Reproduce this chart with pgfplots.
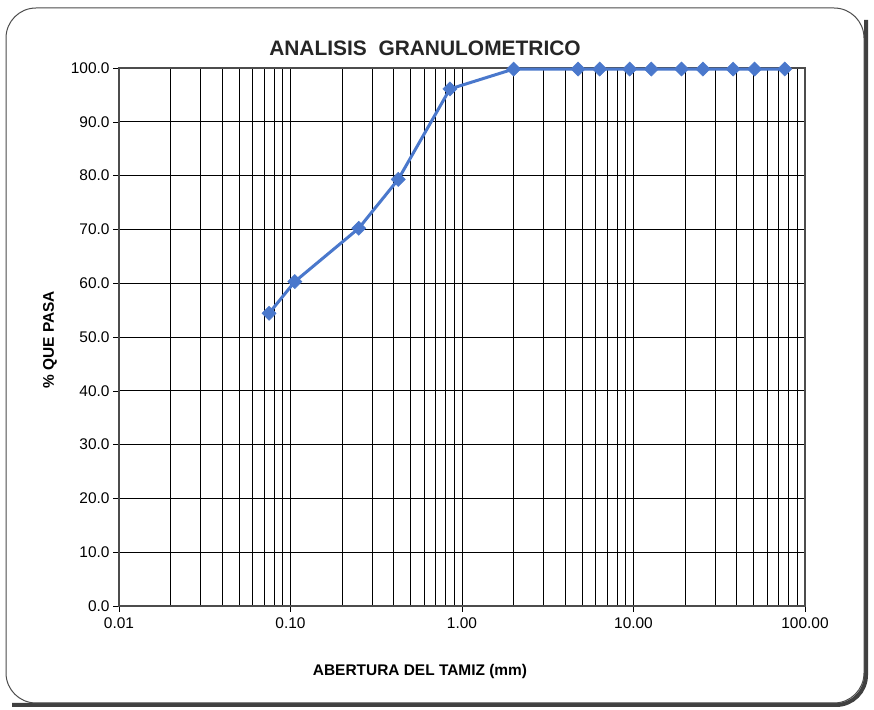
\documentclass[border=0pt]{standalone}
\usepackage{pgfplots}
\pgfplotsset{compat=1.18}
\usepackage{fontspec}
\setmainfont{Liberation Sans}
\definecolor{serie}{HTML}{4A78CC}
\begin{document}
\begin{tikzpicture}[x=1bp,y=1bp]
\fill[white] (0,0) rectangle (874,710);
% shadow + frame
\draw[line width=4bp, black!75, rounded corners=30bp] (12,5) -- (866,5) -- (866,690);
\draw[line width=1bp, black!70, rounded corners=30bp] (6,7) rectangle (864,702);
\begin{axis}[
  at={(119bp,104bp)}, anchor=south west,
  scale only axis, width=686bp, height=538bp,
  xmode=log, log basis x=10,
  xmin=0.01, xmax=100, ymin=0, ymax=100,
  xtick={0.01,0.1,1,10,100},
  xticklabels={0.01,0.10,1.00,10.00,100.00},
  minor xtick={0.02,0.03,0.04,0.05,0.06,0.07,0.08,0.09,
               0.2,0.3,0.4,0.5,0.6,0.7,0.8,0.9,
               2,3,4,5,6,7,8,9,
               20,30,40,50,60,70,80,90},
  ytick={0,10,...,100},
  yticklabel style={/pgf/number format/.cd,fixed,fixed zerofill,precision=1,assume math mode=true},
  ticklabel style={font=\fontsize{15.5}{15.5}\selectfont},
  grid=both,
  major grid style={black, line width=0.8bp},
  minor grid style={black, line width=0.7bp},
  axis line style={black!70, line width=1.2bp},
  tick pos=left, tick align=outside,
  major tick length=6bp, minor tick length=0bp,
  tick style={black},
  xticklabel style={yshift=-2bp},
  clip=false,
]
\addplot[serie, line width=3bp, mark=square*, mark size=5bp, mark options={rotate=45, fill=serie, draw=serie, line width=0.5bp}]
coordinates {
(0.075,54.4) (0.106,60.3) (0.25,70.2) (0.425,79.3) (0.85,96.1)
(2.0,99.8) (4.75,99.8) (6.35,99.8) (9.5,99.8) (12.7,99.8)
(19.05,99.8) (25.4,99.8) (38.1,99.8) (50.8,99.8) (76.2,99.8)
};
\end{axis}
\node[font=\bfseries\fontsize{21}{21}\selectfont, black!85] at (425,662) {ANALISIS\ \ GRANULOMETRICO};
\node[font=\bfseries\fontsize{15.5}{15.5}\selectfont, rotate=90] at (50,370) {\% QUE PASA};
\node[font=\bfseries\fontsize{15.5}{15.5}\selectfont] at (420,38) {ABERTURA DEL TAMIZ (mm)};
\end{tikzpicture}
\end{document}
